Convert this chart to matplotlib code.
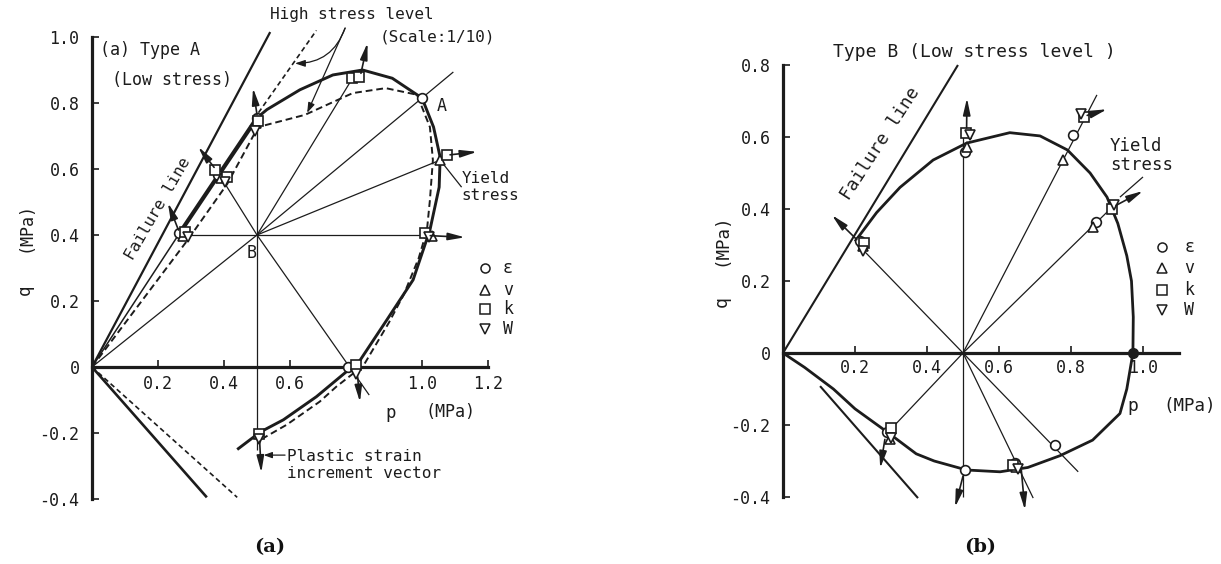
import matplotlib
matplotlib.use("Agg")
import matplotlib.pyplot as plt
from matplotlib.patches import FancyArrowPatch

W_PX, H_PX, DPI = 1221, 564, 100
MONO = "DejaVu Sans Mono"
INK = "#1c1c1c"
plt.rcParams["font.family"] = [MONO, "DejaVu Sans"]

# ---------------- Type A (low stress) ----------------
a_center = (0.5, 0.4)
a_fail_p, a_fail_q = [0.0, 0.54], [0.0, 1.015]
a_fail_low_p, a_fail_low_q = [0.0, 0.348], [0.0, -0.395]
a_high_fail_p, a_high_fail_q = [0.49, 0.68], [0.75, 1.02]
a_high_low_p, a_high_low_q = [0.0, 0.44], [0.0, -0.395]
a_foot_p, a_foot_q = [0.0, 0.265], [0.0, 0.405]
a_ridge_p, a_ridge_q = [0.265, 0.5], [0.405, 0.755]
a_yield_p = [0.5, 0.53, 0.63, 0.73, 0.82, 0.91, 1.0, 1.035, 1.055, 1.052,
             1.024, 0.973, 0.893, 0.812, 0.68, 0.58, 0.51, 0.44]
a_yield_q = [0.755, 0.78, 0.84, 0.885, 0.9, 0.875, 0.815, 0.727, 0.636, 0.545,
             0.415, 0.264, 0.142, 0.02, -0.09, -0.16, -0.197, -0.25]
a_high_p = [0.0, 0.29, 0.41, 0.503, 0.645, 0.79, 0.89, 0.985, 1.024, 1.033,
            1.024, 1.015, 0.99, 0.945, 0.9, 0.823, 0.74, 0.69, 0.59, 0.52]
a_high_q = [0.0, 0.385, 0.555, 0.727, 0.764, 0.83, 0.845, 0.825, 0.727, 0.627,
            0.506, 0.415, 0.33, 0.22, 0.135, 0.005, -0.06, -0.105, -0.175, -0.215]
a_ray_p = [0.0, 0.265, 0.40, 0.5, 0.79, 1.095, 1.055, 1.02, 0.84, 0.5]
a_ray_q = [0.0, 0.4, 0.56, 0.755, 0.876, 0.894, 0.627, 0.4, -0.085, -0.25]

a_eps_p = [0.265, 0.383, 0.5, 1.0, 0.776]
a_eps_q = [0.405, 0.582, 0.755, 0.815, 0.0]
a_v_p = [0.275, 0.39, 0.497, 1.055, 1.03]
a_v_q = [0.398, 0.572, 0.74, 0.627, 0.398]
a_k_p = [0.283, 0.373, 0.41, 0.503, 0.788, 0.81, 1.075, 1.01, 0.80, 0.506]
a_k_q = [0.41, 0.597, 0.577, 0.745, 0.876, 0.88, 0.642, 0.405, 0.006, -0.203]
a_w_p = [0.29, 0.403, 0.493, 1.02, 0.80, 0.506]
a_w_q = [0.395, 0.56, 0.715, 0.395, -0.02, -0.218]

# plastic strain increment vectors: tail p, tail q, head p, head q
a_vec_p0 = [0.262, 0.37, 0.5, 0.815, 1.085, 1.025, 0.805, 0.508]
a_vec_q0 = [0.415, 0.605, 0.765, 0.89, 0.643, 0.398, -0.03, -0.225]
a_vec_p1 = [0.23, 0.322, 0.488, 0.835, 1.167, 1.13, 0.812, 0.513]
a_vec_q1 = [0.497, 0.667, 0.845, 0.982, 0.652, 0.393, -0.106, -0.32]

a_yticks = [-0.4, -0.2, 0.0, 0.2, 0.4, 0.6, 0.8, 1.0]
a_ylabels = ["-0.4", "-0.2", "0", "0.2", "0.4", "0.6", "0.8", "1.0"]
a_xticks = [0.2, 0.4, 0.6, 0.8, 1.0, 1.2]
a_xlabels = ["0.2", "0.4", "0.6", "", "1.0", "1.2"]

# ---------------- Type B (low stress level) ----------------
b_center = (0.5, 0.0)
b_fail_p, b_fail_q = [0.0, 0.486], [0.0, 0.8]
b_fail_low_p, b_fail_low_q = [0.103, 0.375], [-0.092, -0.403]
b_yield_p = [0.20, 0.26, 0.325, 0.417, 0.51, 0.63, 0.714, 0.79, 0.853, 0.9,
             0.93, 0.955, 0.968, 0.973, 0.972, 0.955, 0.936, 0.86, 0.77, 0.68,
             0.603, 0.51, 0.42, 0.37, 0.29, 0.2, 0.14, 0.06, 0.0]
b_yield_q = [0.31, 0.39, 0.46, 0.536, 0.583, 0.612, 0.603, 0.564, 0.5, 0.433,
             0.36, 0.27, 0.2, 0.1, 0.0, -0.1, -0.168, -0.242, -0.285, -0.318,
             -0.33, -0.325, -0.30, -0.28, -0.22, -0.155, -0.10, -0.04, 0.0]
b_ray_p = [0.214, 0.5, 0.872, 0.914, 0.306, 0.5, 0.695, 0.82]
b_ray_q = [0.295, 0.62, 0.717, 0.405, -0.205, -0.40, -0.403, -0.33]

b_eps_p = [0.214, 0.506, 0.806, 0.87, 0.289, 0.506, 0.644, 0.755]
b_eps_q = [0.31, 0.558, 0.605, 0.365, -0.22, -0.325, -0.306, -0.256]
b_v_p = [0.222, 0.51, 0.778, 0.862, 0.297, 0.648]
b_v_q = [0.296, 0.572, 0.536, 0.35, -0.238, -0.318]
b_k_p = [0.225, 0.508, 0.836, 0.914, 0.3, 0.64]
b_k_q = [0.305, 0.61, 0.655, 0.4, -0.207, -0.31]
b_w_p = [0.222, 0.52, 0.828, 0.92, 0.3, 0.652]
b_w_q = [0.282, 0.605, 0.665, 0.41, -0.235, -0.322]
b_isotropic_p, b_isotropic_q = [0.972], [0.0]

b_vec_p0 = [0.205, 0.51, 0.845, 0.925, 0.283, 0.5, 0.662]
b_vec_q0 = [0.315, 0.625, 0.66, 0.41, -0.24, -0.342, -0.325]
b_vec_p1 = [0.136, 0.511, 0.9, 1.0, 0.27, 0.478, 0.672]
b_vec_q1 = [0.383, 0.708, 0.677, 0.45, -0.32, -0.428, -0.436]

b_yticks = [-0.4, -0.2, 0.0, 0.2, 0.4, 0.6, 0.8]
b_ylabels = ["-0.4", "-0.2", "0", "0.2", "0.4", "0.6", "0.8"]
b_xticks = [0.2, 0.4, 0.6, 0.8, 1.0]
b_xlabels = ["0.2", "0.4", "0.6", "0.8", "1.0"]

legend_marks = ["o", "^", "s", "v"]
legend_names = ["ε", "v", "k", "W"]


def make_axes(fig, box_px, origin_px, scale):
    """Axes whose data units map to `scale` pixels, origin placed at origin_px."""
    x0, y0, x1, y1 = box_px
    ox, oy = origin_px
    ax = fig.add_axes([x0 / W_PX, 1 - y1 / H_PX, (x1 - x0) / W_PX, (y1 - y0) / H_PX])
    ax.set_xlim((x0 - ox) / scale, (x1 - ox) / scale)
    ax.set_ylim((oy - y1) / scale, (oy - y0) / scale)
    ax.patch.set_alpha(0)
    return ax


def style_axes(ax, xticks, xlabels, yticks, ylabels, xmax):
    for s in ("top", "right"):
        ax.spines[s].set_visible(False)
    for s in ("left", "bottom"):
        ax.spines[s].set_position(("data", 0))
        ax.spines[s].set_linewidth(2.3)
        ax.spines[s].set_color(INK)
        ax.spines[s].set_zorder(4)
    ax.spines["left"].set_bounds(yticks[0], yticks[-1])
    ax.spines["bottom"].set_bounds(0, xmax)
    ax.set_xticks(xticks, xlabels)
    ax.set_yticks(yticks, ylabels)
    ax.tick_params(axis="both", direction="in", length=5, width=1.2,
                   colors=INK, labelsize=12)
    ax.tick_params(axis="y", pad=9)
    ax.tick_params(axis="x", pad=6)


def line(ax, p, q, lw=1.0, ls="-", z=2):
    ax.plot(p, q, color=INK, lw=lw, ls=ls, zorder=z, solid_capstyle="butt",
            dash_capstyle="butt", clip_on=False)


def rays(ax, center, p, q):
    for pe, qe in zip(p, q):
        line(ax, [center[0], pe], [center[1], qe], lw=0.9)


def markers(ax, pts):
    for (pp, qq), m in zip(pts, legend_marks):
        ax.plot(pp, qq, ls="none", marker=m, ms=7, mfc="white", mec=INK,
                mew=1.2, zorder=6, clip_on=False)


def vectors(ax, p0, q0, p1, q1):
    for a, b, c, d in zip(p0, q0, p1, q1):
        arr = FancyArrowPatch((a, b), (c, d),
                              arrowstyle="-|>,head_length=1.0,head_width=0.22",
                              mutation_scale=10, lw=1.2, color=INK,
                              shrinkA=0, shrinkB=0, zorder=7, clip_on=False)
        ax.add_patch(arr)


def legend(ax, x_mark, x_text, q_rows):
    for m, name, qq in zip(legend_marks, legend_names, q_rows):
        ax.plot([x_mark], [qq], ls="none", marker=m, ms=6.5, mfc="white",
                mec=INK, mew=1.1, clip_on=False, zorder=6)
        ax.text(x_text, qq, name, fontsize=12, color=INK, va="center",
                ha="left", clip_on=False)


def txt(ax, x, y, s, **kw):
    opts = dict(fontsize=11.5, color=INK, va="center", ha="left", clip_on=False)
    opts.update(kw)
    ax.text(x, y, s, **opts)


fig = plt.figure(figsize=(W_PX / DPI, H_PX / DPI), dpi=DPI)
fig.patch.set_facecolor("white")

# ====================== panel (a) ======================
ax = make_axes(fig, (10, 10, 560, 520), (92, 367), 330.0)
style_axes(ax, a_xticks, a_xlabels, a_yticks, a_ylabels, 1.2)

line(ax, a_fail_p, a_fail_q, lw=1.6)
line(ax, a_fail_low_p, a_fail_low_q, lw=1.9)
line(ax, a_high_fail_p, a_high_fail_q, lw=1.2, ls=(0, (3, 2)))
line(ax, a_high_low_p, a_high_low_q, lw=1.2, ls=(0, (3, 2)))
line(ax, a_high_p, a_high_q, lw=1.4, ls=(0, (3.5, 2)))
rays(ax, a_center, a_ray_p, a_ray_q)
line(ax, a_foot_p, a_foot_q, lw=1.1)
line(ax, a_ridge_p, a_ridge_q, lw=3.0, z=3)
line(ax, a_yield_p, a_yield_q, lw=2.1, z=3)

markers(ax, [(a_eps_p, a_eps_q), (a_v_p, a_v_q), (a_k_p, a_k_q), (a_w_p, a_w_q)])
vectors(ax, a_vec_p0, a_vec_q0, a_vec_p1, a_vec_q1)

txt(ax, 0.024, 0.96, "(a) Type A", fontsize=12)
txt(ax, 0.06, 0.87, "(Low stress)", fontsize=12)
txt(ax, 0.54, 1.067, "High stress level")
txt(ax, 0.873, 1.0, "(Scale:1/10)")
txt(ax, 1.045, 0.79, "A", fontsize=12)
txt(ax, 0.47, 0.345, "B", fontsize=12)
txt(ax, 1.12, 0.546, "Yield\nstress", linespacing=1.15)
txt(ax, 0.2, 0.48, "Failure line", rotation=60, ha="center", rotation_mode="anchor")
txt(ax, 0.59, -0.297, "Plastic strain\nincrement vector", linespacing=1.1)
txt(ax, 0.905, -0.14, "p", fontsize=12.5, ha="center")
txt(ax, 1.085, -0.137, "(MPa)", fontsize=12, ha="center")
txt(ax, -0.203, 0.235, "q", fontsize=12.5, ha="center", rotation=90)
txt(ax, -0.203, 0.424, "(MPa)", fontsize=12, ha="center", rotation=90)
legend(ax, 1.19, 1.245, [0.3, 0.233, 0.176, 0.115])

# leaders
line(ax, [1.12, 1.055], [0.545, 0.627], lw=0.9)
ax.add_patch(FancyArrowPatch((0.767, 1.027), (0.615, 0.92),
                             connectionstyle="arc3,rad=-0.35",
                             arrowstyle="-|>,head_length=0.6,head_width=0.2",
                             mutation_scale=10, lw=0.9, color=INK,
                             shrinkA=0, shrinkB=0, clip_on=False))
ax.add_patch(FancyArrowPatch((0.767, 1.027), (0.652, 0.77),
                             arrowstyle="-|>,head_length=0.6,head_width=0.2",
                             mutation_scale=10, lw=0.9, color=INK,
                             shrinkA=0, shrinkB=0, clip_on=False))
ax.add_patch(FancyArrowPatch((0.585, -0.267), (0.52, -0.267),
                             arrowstyle="-|>,head_length=0.5,head_width=0.18",
                             mutation_scale=10, lw=0.9, color=INK,
                             shrinkA=0, shrinkB=0, clip_on=False))

# ====================== panel (b) ======================
bx = make_axes(fig, (700, 10, 1215, 520), (783, 353), 360.0)
style_axes(bx, b_xticks, b_xlabels, b_yticks, b_ylabels, 1.1)
bx.tick_params(axis="x", pad=4)

line(bx, b_fail_p, b_fail_q, lw=1.5)
line(bx, b_fail_low_p, b_fail_low_q, lw=1.5)
rays(bx, b_center, b_ray_p, b_ray_q)
line(bx, b_yield_p, b_yield_q, lw=2.0, z=3)

markers(bx, [(b_eps_p, b_eps_q), (b_v_p, b_v_q), (b_k_p, b_k_q), (b_w_p, b_w_q)])
bx.plot(b_isotropic_p, b_isotropic_q, ls="none", marker="o", ms=7, mfc=INK,
        mec=INK, zorder=7, clip_on=False)
vectors(bx, b_vec_p0, b_vec_q0, b_vec_p1, b_vec_q1)

txt(bx, 0.139, 0.836, "Type B (Low stress level )", fontsize=13)
txt(bx, 0.27, 0.583, "Failure line", fontsize=13, rotation=57, ha="center",
    rotation_mode="anchor")
txt(bx, 0.908, 0.548, "Yield\nstress", fontsize=12.5, linespacing=1.1)
txt(bx, 0.972, -0.147, "p", fontsize=13, ha="center")
txt(bx, 1.13, -0.147, "(MPa)", fontsize=12.5, ha="center")
txt(bx, -0.17, 0.142, "q", fontsize=13, ha="center", rotation=90)
txt(bx, -0.17, 0.314, "(MPa)", fontsize=12.5, ha="center", rotation=90)
legend(bx, 1.053, 1.115, [0.294, 0.236, 0.175, 0.119])
line(bx, [1.0, 0.936], [0.489, 0.433], lw=0.9)

# sub-figure captions
fig.text(270 / W_PX, 1 - 547 / H_PX, "(a)", family="DejaVu Serif",
         weight="bold", fontsize=14, ha="center", va="center", color="#111")
fig.text(980 / W_PX, 1 - 547 / H_PX, "(b)", family="DejaVu Serif",
         weight="bold", fontsize=14, ha="center", va="center", color="#111")

fig.savefig("out.png", dpi=DPI, facecolor="white")
